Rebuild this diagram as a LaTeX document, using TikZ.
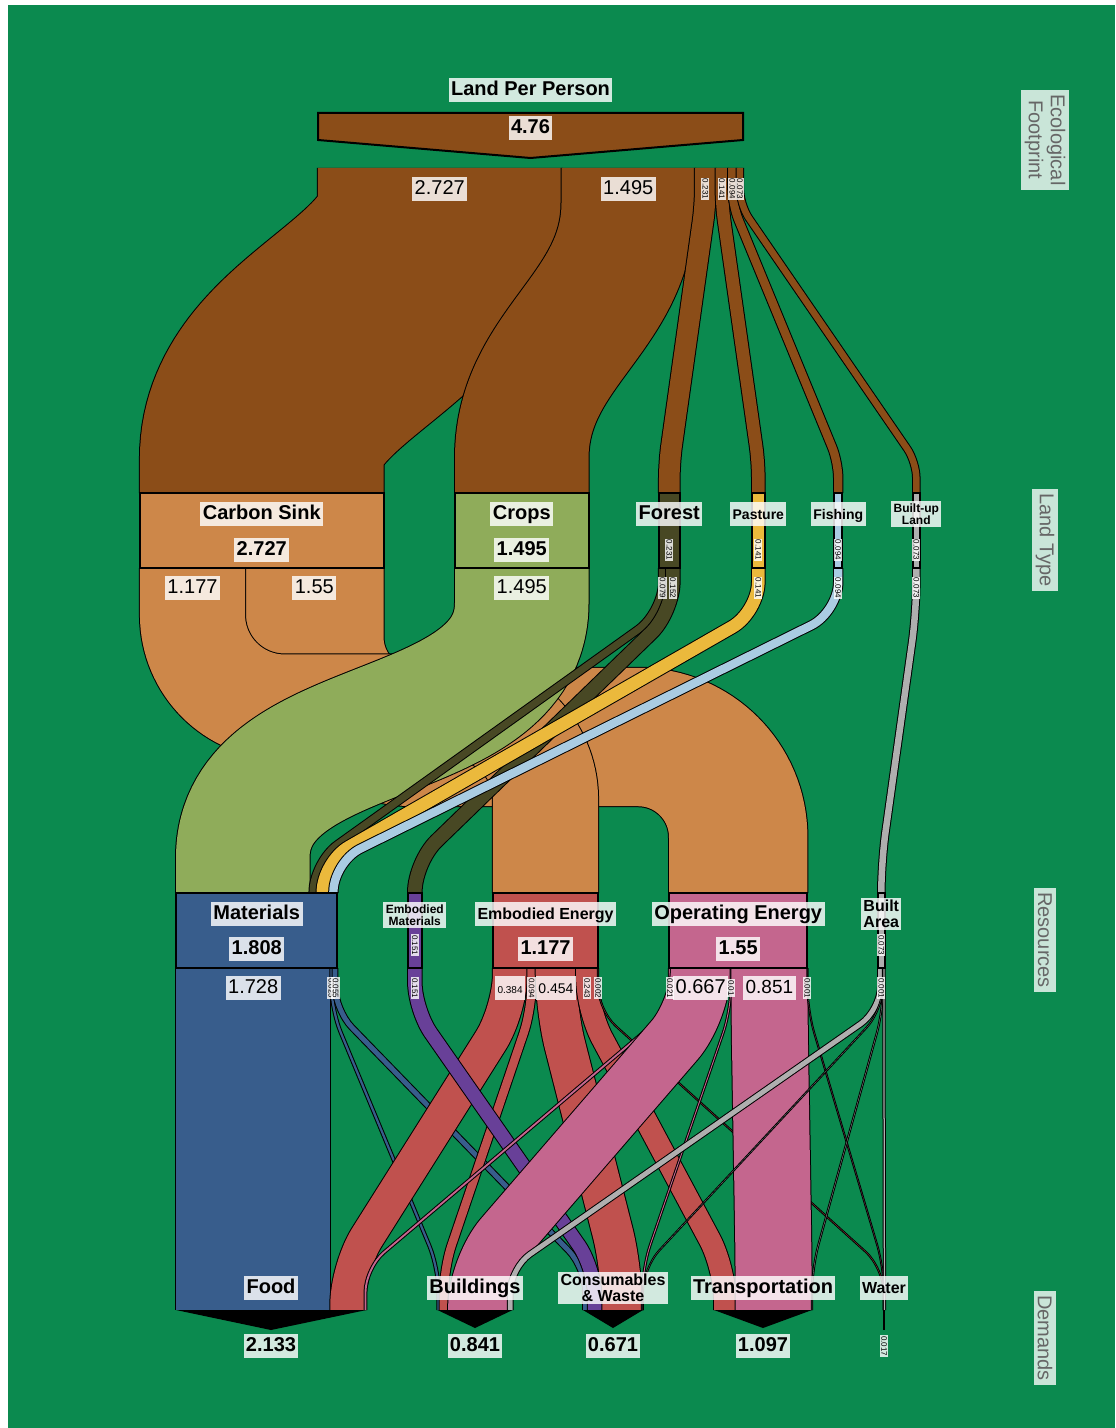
\documentclass[tikz,border=0pt]{standalone}
\usepackage{fontspec}
\setmainfont{Liberation Sans}
\usetikzlibrary{calc}

\definecolor{bg}{RGB}{11,138,79}
\definecolor{landcol}{RGB}{139,77,24}
\definecolor{sinkcol}{RGB}{205,135,73}
\definecolor{cropcol}{RGB}{143,172,90}
\definecolor{forestcol}{RGB}{72,72,36}
\definecolor{pasturecol}{RGB}{235,185,60}
\definecolor{fishcol}{RGB}{170,204,226}
\definecolor{builtcol}{RGB}{175,175,175}
\definecolor{matcol}{RGB}{56,93,140}
\definecolor{embmatcol}{RGB}{104,64,152}
\definecolor{embencol}{RGB}{192,81,78}
\definecolor{opencol}{RGB}{196,102,142}

% one sankey band: colour, value, path (black rim first)
\newcommand{\sankeyflow}[3]{%
  \draw[line width={#2*44.65pt+1pt}, black] #3;
  \draw[line width={#2*44.65pt}, #1] #3;
}

\begin{document}
\begin{tikzpicture}[
      x=0.5pt, y=-0.5pt,
      bar/.style = {draw=black, line width=1pt, inner sep=0pt,
                    minimum height=37.5pt},
      lbl/.style = {fill=white, fill opacity=0.82, text opacity=1,
                    inner sep=1.2pt},
      hd/.style  = {lbl, text height=0.74em, text depth=0.2em,
                    font=\bfseries\fontsize{#1}{#1}\selectfont},
      hd/.default = 10,
      hdtwo/.style = {lbl, align=center, font=\bfseries\fontsize{#1}{#1}\selectfont},
      val/.style = {lbl, text height=0.74em, text depth=0.2em,
                    font=\fontsize{#1}{#1}\selectfont},
      val/.default = 10,
      bval/.style = {lbl, text height=0.74em, text depth=0.2em,
                     font=\bfseries\fontsize{10}{10}\selectfont},
      tiny/.style = {lbl, rotate=-90, inner sep=0.6pt,
                     font=\fontsize{4}{4}\selectfont},
      level/.style = {fill=white, fill opacity=0.78, text opacity=1,
                      text=black!60, rotate=-90, align=center, inner sep=2pt,
                      font=\fontsize{10}{11}\selectfont}
    ]
    \useasboundingbox (0,0) rectangle (1115,1428);
    \fill[white] (0,0) rectangle (1115,1428);
    \fill[bg] (8,5) rectangle (1115,1428);

    % Flow ends
    \coordinate (top-cs) at (439.75,168);
    \coordinate (top-cr) at (628.25,168);
    \coordinate (top-fo) at (705.3,168);
    \coordinate (top-pa) at (721.9,168);
    \coordinate (top-fi) at (732.4,168);
    \coordinate (top-bu) at (739.9,168);
    \coordinate (cs-in) at (261.75,493);
    \coordinate (cr-in) at (521.75,493);
    \coordinate (fo-in) at (669.3,493);
    \coordinate (pa-in) at (758.3,493);
    \coordinate (fi-in) at (838.2,493);
    \coordinate (bu-in) at (916.3,493);

    \coordinate (cs-ee) at (192.5,568);
    \coordinate (cs-oe) at (314.3,568);
    \coordinate (cr-mat) at (521.75,568);
    \coordinate (fo-mat) at (662.5,568);
    \coordinate (fo-em) at (672.8,568);
    \coordinate (pa-mat) at (758.3,568);
    \coordinate (fi-mat) at (838.2,568);
    \coordinate (bu-ba) at (916.3,568);
    \coordinate (mat-cr) at (242.75,893);
    \coordinate (mat-fo) at (313.0,893);
    \coordinate (mat-pa) at (322.9,893);
    \coordinate (mat-fi) at (333.4,893);
    \coordinate (em-in) at (414.8,893);
    \coordinate (ee-in) at (545.5,893);
    \coordinate (oe-in) at (738.2,893);
    \coordinate (ba-in) at (881.3,893);

    \coordinate (mat-food) at (253.2,968);
    \coordinate (mat-bld) at (331.4,968);
    \coordinate (mat-cw) at (335.0,968);
    \coordinate (em-cw) at (414.8,968);
    \coordinate (ee-food) at (510.1,968);
    \coordinate (ee-bld) at (531.5,968);
    \coordinate (ee-cw) at (556.0,968);
    \coordinate (ee-tr) at (587.0,968);
    \coordinate (ee-wa) at (598.0,968);
    \coordinate (oe-food) at (669.9,968);
    \coordinate (oe-bld) at (700.7,968);
    \coordinate (oe-cw) at (731.0,968);
    \coordinate (oe-tr) at (769.4,968);
    \coordinate (oe-wa) at (807.4,968);
    \coordinate (ba-bld) at (880.5,968);
    \coordinate (ba-cw) at (882.9,968);
    \coordinate (ba-tr) at (883.2,968);
    \coordinate (ba-wa) at (883.9,968);
    \coordinate (food-mat) at (253.2,1310);
    \coordinate (food-ee) at (347.5,1310);
    \coordinate (food-oe) at (365.5,1310);
    \coordinate (bld-mat) at (438.6,1310);
    \coordinate (bld-ee) at (443.9,1310);
    \coordinate (bld-oe) at (477.9,1310);
    \coordinate (bld-ba) at (510.2,1310);
    \coordinate (cw-mat) at (585.5,1310);
    \coordinate (cw-em) at (594.7,1310);
    \coordinate (cw-ee) at (621.7,1310);
    \coordinate (cw-oe) at (642.3,1310);
    \coordinate (cw-ba) at (642.9,1310);
    \coordinate (tr-ee) at (724.9,1310);
    \coordinate (tr-oe) at (773.7,1310);
    \coordinate (tr-ba) at (812.0,1310);
    \coordinate (wa-ee) at (883.6,1310);
    \coordinate (wa-oe) at (884.0,1310);
    \coordinate (wa-ba) at (884.4,1310);

    % Flows: footprint -> land type
    \sankeyflow{landcol}{2.727}{(top-cs) -- ++(0,35) .. controls +(0,110) and +(0,-110) .. ($(cs-in)+(0,-35)$) -- (cs-in)}
    \sankeyflow{landcol}{1.495}{(top-cr) -- ++(0,35) .. controls +(0,110) and +(0,-110) .. ($(cr-in)+(0,-35)$) -- (cr-in)}
    \sankeyflow{landcol}{0.231}{[rounded corners=8pt] (top-fo) -- (top-fo |- 0,205) -- (fo-in |- 0,462) -- (fo-in)}
    \sankeyflow{landcol}{0.141}{[rounded corners=8pt] (top-pa) -- (top-pa |- 0,205) -- (pa-in |- 0,462) -- (pa-in)}
    \sankeyflow{landcol}{0.094}{[rounded corners=8pt] (top-fi) -- (top-fi |- 0,205) -- (fi-in |- 0,462) -- (fi-in)}
    \sankeyflow{landcol}{0.073}{[rounded corners=8pt] (top-bu) -- (top-bu |- 0,205) -- (bu-in |- 0,462) -- (bu-in)}

    % Flows: land type -> resources
    \sankeyflow{sinkcol}{1.55}{[rounded corners=50pt] (cs-oe) -- (cs-oe |- 0,737) -- (oe-in |- 0,737) -- (oe-in)}
    \sankeyflow{sinkcol}{1.177}{[rounded corners=46pt] (cs-ee) -- (cs-ee |- 0,707) -- (ee-in |- 0,707) -- (ee-in)}
    \sankeyflow{cropcol}{1.495}{(cr-mat) -- ++(0,35) .. controls +(0,145) and +(0,-145) .. ($(mat-cr)+(0,-35)$) -- (mat-cr)}
    \sankeyflow{forestcol}{0.079}{[rounded corners=15pt] (fo-mat) -- (fo-mat |- 0,612) -- (mat-fo |- 0,862) -- (mat-fo)}
    \sankeyflow{forestcol}{0.152}{[rounded corners=15pt] (fo-em) -- (fo-em |- 0,612) -- (em-in |- 0,862) -- (em-in)}
    \sankeyflow{pasturecol}{0.141}{[rounded corners=15pt] (pa-mat) -- (pa-mat |- 0,612) -- (mat-pa |- 0,862) -- (mat-pa)}
    \sankeyflow{fishcol}{0.094}{[rounded corners=15pt] (fi-mat) -- (fi-mat |- 0,612) -- (mat-fi |- 0,862) -- (mat-fi)}
    \sankeyflow{builtcol}{0.073}{[rounded corners=15pt] (bu-ba) -- (bu-ba |- 0,612) -- (ba-in |- 0,862) -- (ba-in)}

    % Flows: resources -> demands
    \sankeyflow{matcol}{1.728}{(mat-food) -- (food-mat)}
    \sankeyflow{matcol}{0.025}{[rounded corners=12pt] (mat-bld) -- (mat-bld |- 0,1010) -- (bld-mat |- 0,1268) -- (bld-mat)}
    \sankeyflow{matcol}{0.055}{[rounded corners=12pt] (mat-cw) -- (mat-cw |- 0,1010) -- (cw-mat |- 0,1268) -- (cw-mat)}
    \sankeyflow{embencol}{0.384}{[rounded corners=18pt] (ee-food) -- (ee-food |- 0,1010) -- (food-ee |- 0,1268) -- (food-ee)}
    \sankeyflow{embencol}{0.094}{[rounded corners=12pt] (ee-bld) -- (ee-bld |- 0,1010) -- (bld-ee |- 0,1268) -- (bld-ee)}
    \sankeyflow{embencol}{0.454}{[rounded corners=18pt] (ee-cw) -- (ee-cw |- 0,1010) -- (cw-ee |- 0,1268) -- (cw-ee)}
    \sankeyflow{embencol}{0.243}{[rounded corners=16pt] (ee-tr) -- (ee-tr |- 0,1010) -- (tr-ee |- 0,1268) -- (tr-ee)}
    \sankeyflow{embencol}{0.002}{[rounded corners=12pt] (ee-wa) -- (ee-wa |- 0,1010) -- (wa-ee |- 0,1268) -- (wa-ee)}
    \sankeyflow{embmatcol}{0.151}{[rounded corners=14pt] (em-cw) -- (em-cw |- 0,1010) -- (cw-em |- 0,1268) -- (cw-em)}
    \sankeyflow{opencol}{0.021}{[rounded corners=12pt] (oe-food) -- (oe-food |- 0,1010) -- (food-oe |- 0,1268) -- (food-oe)}
    \sankeyflow{opencol}{0.667}{[rounded corners=20pt] (oe-bld) -- (oe-bld |- 0,1010) -- (bld-oe |- 0,1268) -- (bld-oe)}
    \sankeyflow{opencol}{0.01}{[rounded corners=12pt] (oe-cw) -- (oe-cw |- 0,1010) -- (cw-oe |- 0,1268) -- (cw-oe)}
    \sankeyflow{opencol}{0.851}{[rounded corners=20pt] (oe-tr) -- (oe-tr |- 0,1010) -- (tr-oe |- 0,1268) -- (tr-oe)}
    \sankeyflow{opencol}{0.001}{[rounded corners=12pt] (oe-wa) -- (oe-wa |- 0,1010) -- (wa-oe |- 0,1268) -- (wa-oe)}
    \sankeyflow{builtcol}{0.055}{[rounded corners=12pt] (ba-bld) -- (ba-bld |- 0,1010) -- (bld-ba |- 0,1268) -- (bld-ba)}
    \sankeyflow{builtcol}{0.001}{[rounded corners=12pt] (ba-cw) -- (ba-cw |- 0,1010) -- (cw-ba |- 0,1268) -- (cw-ba)}
    \sankeyflow{builtcol}{0.003}{[rounded corners=12pt] (ba-tr) -- (ba-tr |- 0,1010) -- (tr-ba |- 0,1268) -- (tr-ba)}
    \sankeyflow{builtcol}{0.014}{[rounded corners=12pt] (ba-wa) -- (ba-wa |- 0,1010) -- (wa-ba |- 0,1268) -- (wa-ba)}

    % Nodes
    \filldraw[fill=landcol, line width=1pt]
      (318,113) -- (743,113) -- (743,140) -- (530.5,158) -- (318,140) -- cycle;
    \node[bar, fill=sinkcol, minimum width=121.75pt] (sink) at (261.75,530.5) {};
    \node[bar, fill=cropcol, minimum width=66.75pt] (crops) at (521.75,530.5) {};
    \node[bar, fill=forestcol, minimum width=10.3pt] (forest) at (669.3,530.5) {};
    \node[bar, fill=pasturecol, minimum width=6.3pt] (pasture) at (758.3,530.5) {};
    \node[bar, fill=fishcol, minimum width=4.2pt] (fishing) at (838.2,530.5) {};
    \node[bar, fill=builtcol, minimum width=3.25pt] (builtup) at (916.3,530.5) {};
    \node[bar, fill=matcol, minimum width=80.7pt] (materials) at (256.75,930.5) {};
    \node[bar, fill=embmatcol, minimum width=6.75pt] (embmat) at (414.75,930.5) {};
    \node[bar, fill=embencol, minimum width=52.55pt] (embenergy) at (545.55,930.5) {};
    \node[bar, fill=opencol, minimum width=69.2pt] (openergy) at (738.2,930.5) {};
    \node[bar, fill=builtcol, minimum width=3.25pt] (builtarea) at (881.25,930.5) {};

    \fill (176,1310) -- (366.5,1310) -- (271,1330) -- cycle;
    \fill (437.5,1310) -- (512.6,1310) -- (475,1328) -- cycle;
    \fill (583,1310) -- (643,1310) -- (613,1328) -- cycle;
    \fill (714,1310) -- (812,1310) -- (763,1328) -- cycle;
    \draw[line width=1pt] (wa-oe) -- ++(0,20);

    % Labels
    \node[hd] (lpp) at (530.5,90) {Land Per Person};
    \node[bval] (lpp-v) at (530.5,128) {4.76};
    \node[val] (o-cs) at (439.75,189) {2.727};
    \node[val] (o-cr) at (628.25,189) {1.495};
    \node[tiny] (o-fo) at (705.3,189) {0.231};
    \node[tiny] (o-pa) at (721.9,189) {0.141};
    \node[tiny] (o-fi) at (732.4,189) {0.094};
    \node[tiny] (o-bu) at (739.9,189) {0.073};

    \node[hd] (sink-t) at (261.75,514) {Carbon Sink};
    \node[bval] (sink-v) at (261.75,550) {2.727};
    \node[val] (sink-o1) at (192.5,588) {1.177};
    \node[val] (sink-o2) at (314.3,588) {1.55};
    \node[hd] (crops-t) at (521.75,514) {Crops};
    \node[bval] (crops-v) at (521.75,550) {1.495};
    \node[val] (crops-o) at (521.75,588) {1.495};
    \node[hd] (forest-t) at (669.3,514) {Forest};
    \node[tiny] (forest-v) at (669.3,550) {0.231};
    \node[tiny] (forest-o1) at (662.5,588) {0.079};
    \node[tiny] (forest-o2) at (672.8,588) {0.152};
    \node[hd=7] (pasture-t) at (758.3,514) {Pasture};
    \node[tiny] (pasture-v) at (758.3,550) {0.141};
    \node[tiny] (pasture-o) at (758.3,588) {0.141};
    \node[hd=7] (fishing-t) at (838.2,514) {Fishing};
    \node[tiny] (fishing-v) at (838.2,550) {0.094};
    \node[tiny] (fishing-o) at (838.2,588) {0.094};
    \node[hdtwo=6] (builtup-t) at (916.3,514) {Built-up\\Land};
    \node[tiny] (builtup-v) at (916.3,550) {0.073};
    \node[tiny] (builtup-o) at (916.3,588) {0.073};

    \node[hd] (materials-t) at (256.75,914) {Materials};
    \node[bval] (materials-v) at (256.75,949) {1.808};
    \node[val] (materials-o1) at (253.2,988) {1.728};
    \node[tiny] (materials-o2) at (331.4,988) {0.025};
    \node[tiny] (materials-o3) at (335.5,988) {0.055};
    \node[hdtwo=6] (embmat-t) at (414.75,915) {Embodied\\Materials};
    \node[tiny] (embmat-v) at (414.75,945) {0.151};
    \node[tiny] (embmat-o) at (414.75,988) {0.151};
    \node[hd=8] (embenergy-t) at (545.55,914) {Embodied Energy};
    \node[bval] (embenergy-v) at (545.55,949) {1.177};
    \node[val=5] (embenergy-o1) at (510.1,988) {0.384};
    \node[tiny] (embenergy-o2) at (531.5,988) {0.094};
    \node[val=7] (embenergy-o3) at (556.0,988) {0.454};
    \node[tiny] (embenergy-o4) at (587.0,988) {0.243};
    \node[tiny] (embenergy-o5) at (598.0,988) {0.002};
    \node[hd] (openergy-t) at (738.2,914) {Operating Energy};
    \node[bval] (openergy-v) at (738.2,949) {1.55};
    \node[tiny] (openergy-o1) at (669.9,988) {0.021};
    \node[val] (openergy-o2) at (700.7,988) {0.667};
    \node[tiny] (openergy-o3) at (731.0,988) {0.01};
    \node[val=9.5] (openergy-o4) at (769.4,988) {0.851};
    \node[tiny] (openergy-o5) at (807.4,988) {0.001};
    \node[hdtwo=8] (builtarea-t) at (881.25,914) {Built\\Area};
    \node[tiny] (builtarea-v) at (881.25,945) {0.073};
    \node[tiny] (builtarea-o) at (881.25,988) {0.001};

    \node[hd] (food-t) at (271,1288) {Food};
    \node[bval] (food-v) at (271,1346) {2.133};
    \node[hd] (bld-t) at (475,1288) {Buildings};
    \node[bval] (bld-v) at (475,1346) {0.841};
    \node[hdtwo=8] (cw-t) at (613,1288) {Consumables\\\& Waste};
    \node[bval] (cw-v) at (613,1346) {0.671};
    \node[hd] (tr-t) at (763,1288) {Transportation};
    \node[bval] (tr-v) at (763,1346) {1.097};
    \node[hd=8] (wa-t) at (884,1288) {Water};
    \node[tiny] (wa-v) at (884,1346) {0.017};

    % Levels
    \node[level] (lv-foot) at (1045,140) {Ecological\\Footprint};
    \node[level] (lv-land) at (1045,540) {Land Type};
    \node[level] (lv-res) at (1045,940) {Resources};
    \node[level] (lv-dem) at (1045,1338) {Demands};
  \end{tikzpicture}
\end{document}
